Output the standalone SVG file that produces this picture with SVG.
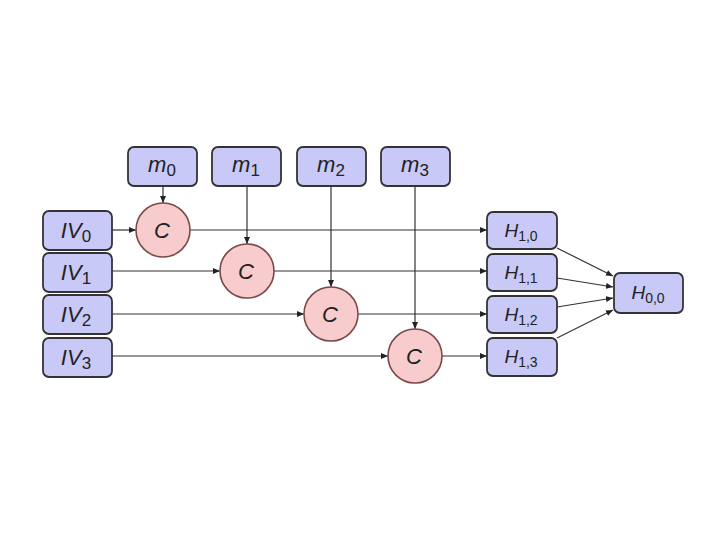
<svg xmlns="http://www.w3.org/2000/svg" width="720" height="539" viewBox="0 0 720 539">
<style>
.box{fill:#c9c9f7;stroke:#333;stroke-width:1.8}
.circ{fill:#f8cccc;stroke:#7a4a4a;stroke-width:1.6}
.t{font-family:"Liberation Sans",Arial,sans-serif;font-style:italic;font-size:22px;fill:#222;text-anchor:middle}
.th{font-family:"Liberation Sans",Arial,sans-serif;font-style:italic;font-size:19px;fill:#222;text-anchor:middle}
.s{font-style:normal;font-size:17px}
.sh{font-style:normal;font-size:14px}
.ln{stroke:#333;stroke-width:1.2;fill:none;marker-end:url(#ah)}
</style>
<defs>
<marker id="ah" markerWidth="8" markerHeight="6" refX="7" refY="3" orient="auto" markerUnits="userSpaceOnUse">
<path d="M0,0 L7,3 L0,6 Z" fill="#222"/>
</marker>
</defs>
<rect width="720" height="539" fill="#fff"/>
<g id="connectors">
<line class="ln" x1="112" y1="230" x2="136" y2="230"/>
<line class="ln" x1="190" y1="230" x2="487" y2="230"/>
<line class="ln" x1="163" y1="186" x2="163" y2="203"/>
<line class="ln" x1="247" y1="186" x2="247" y2="244"/>
<line class="ln" x1="112" y1="271" x2="220" y2="271"/>
<line class="ln" x1="274" y1="271" x2="487" y2="271"/>
<line class="ln" x1="331" y1="186" x2="331" y2="287"/>
<line class="ln" x1="112" y1="314" x2="304" y2="314"/>
<line class="ln" x1="358" y1="314" x2="487" y2="314"/>
<line class="ln" x1="415" y1="186" x2="415" y2="329"/>
<line class="ln" x1="112" y1="356" x2="388" y2="356"/>
<line class="ln" x1="442" y1="356" x2="487" y2="356"/>
<line class="ln" x1="557" y1="248" x2="613" y2="276"/>
<line class="ln" x1="557" y1="278" x2="613" y2="287"/>
<line class="ln" x1="557" y1="307" x2="613" y2="298"/>
<line class="ln" x1="557" y1="338" x2="613" y2="310"/>
</g>
<g id="IV0"><rect class="box" x="43" y="211" width="69" height="39" rx="6"/><text class="t" x="76" y="238">IV<tspan class="s" dy="4">0</tspan></text></g>
<g id="IV1"><rect class="box" x="43" y="253" width="69" height="39" rx="6"/><text class="t" x="76" y="280">IV<tspan class="s" dy="4">1</tspan></text></g>
<g id="IV2"><rect class="box" x="43" y="295" width="69" height="39" rx="6"/><text class="t" x="76" y="322">IV<tspan class="s" dy="4">2</tspan></text></g>
<g id="IV3"><rect class="box" x="43" y="338" width="69" height="39" rx="6"/><text class="t" x="76" y="365">IV<tspan class="s" dy="4">3</tspan></text></g>
<g id="m0"><rect class="box" x="128" y="147" width="69" height="39" rx="6"/><text class="t" x="162" y="172">m<tspan class="s" dy="4">0</tspan></text></g>
<g id="m1"><rect class="box" x="212" y="147" width="69" height="39" rx="6"/><text class="t" x="246" y="172">m<tspan class="s" dy="4">1</tspan></text></g>
<g id="m2"><rect class="box" x="297" y="147" width="69" height="39" rx="6"/><text class="t" x="331" y="172">m<tspan class="s" dy="4">2</tspan></text></g>
<g id="m3"><rect class="box" x="381" y="147" width="69" height="39" rx="6"/><text class="t" x="415" y="172">m<tspan class="s" dy="4">3</tspan></text></g>
<g id="C0"><circle class="circ" cx="163" cy="230" r="27"/><text class="t" x="162" y="238">C</text></g>
<g id="C1"><circle class="circ" cx="247" cy="271" r="27"/><text class="t" x="246" y="279">C</text></g>
<g id="C2"><circle class="circ" cx="331" cy="314" r="27"/><text class="t" x="330" y="322">C</text></g>
<g id="C3"><circle class="circ" cx="415" cy="356" r="27"/><text class="t" x="414" y="364">C</text></g>
<g id="H10"><rect class="box" x="487" y="212" width="70" height="37" rx="6"/><text class="th" x="521" y="237">H<tspan class="sh" dy="4">1,0</tspan></text></g>
<g id="H11"><rect class="box" x="487" y="254" width="70" height="37" rx="6"/><text class="th" x="521" y="279">H<tspan class="sh" dy="4">1,1</tspan></text></g>
<g id="H12"><rect class="box" x="487" y="296" width="70" height="37" rx="6"/><text class="th" x="521" y="321">H<tspan class="sh" dy="4">1,2</tspan></text></g>
<g id="H13"><rect class="box" x="487" y="338" width="70" height="38" rx="6"/><text class="th" x="521" y="363">H<tspan class="sh" dy="4">1,3</tspan></text></g>
<g id="H00"><rect class="box" x="614" y="273" width="69" height="40" rx="6"/><text class="th" x="648" y="299">H<tspan class="sh" dy="4">0,0</tspan></text></g>
</svg>
